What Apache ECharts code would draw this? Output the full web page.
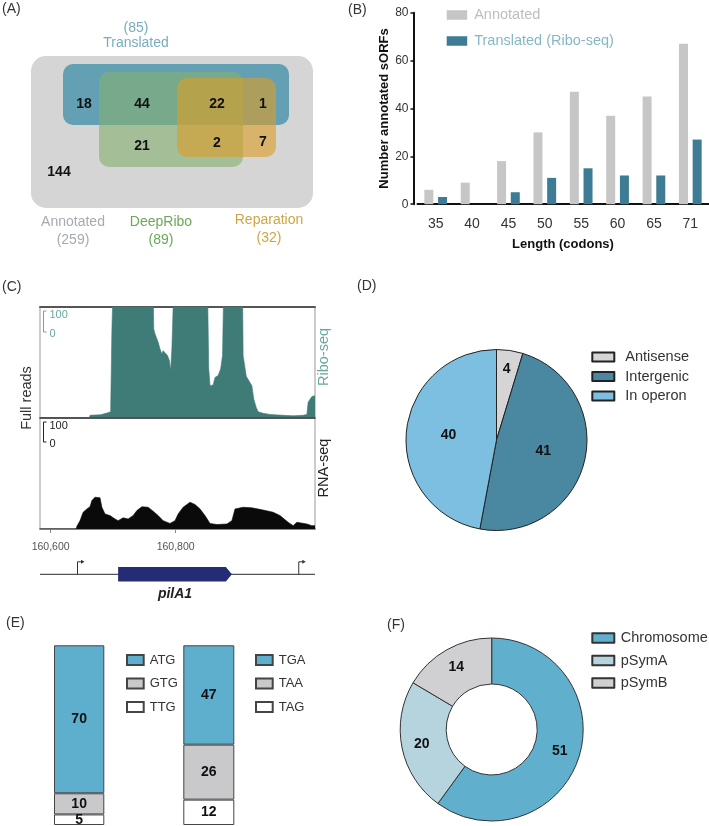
<!DOCTYPE html>
<html><head><meta charset="utf-8">
<script src="https://cdn.jsdelivr.net/npm/echarts@6/dist/echarts.min.js"></script>
<style>html,body{margin:0;padding:0;background:#fff}#chart{width:709px;height:826px}</style>
</head><body><div id="chart"></div>
<script>
// ---------- DATA ----------
// (A) Venn
const vennSetNames = ['Translated', 'Annotated', 'DeepRibo', 'Reparation'];
const vennSetTotals = [85, 259, 89, 32];
const vennRegionCounts = [18, 44, 22, 1, 21, 2, 7, 144];
// (B) length distribution
const lengthCategories = ['35', '40', '45', '50', '55', '60', '65', '71'];
const annotatedCounts = [6, 9, 18, 30, 47, 37, 45, 67];
const translatedCounts = [3, 0, 5, 11, 15, 12, 12, 27];
const lengthSeriesNames = ['Annotated', 'Translated (Ribo-seq)'];
// (C) coverage tracks
const genomeRange = [160583, 161023];
const genomeTicks = [160600, 160800];
const riboPos = [160583,160662,160663,160680,160690,160696,160698,160700,160764,160765,160767,160770,160772,160775,160778,160780,160783,160787,160790,160792,160794,160796,160799,160851,160853,160855,160860,160863,160868,160872,160875,160877,160907,160908,160913,160916,160922,160925,160929,160932,160940,160951,160972,160988,161004,161010,161012,161018,161023];
const riboReads = [0,0,8,10,16,21,315,480,480,320,303,285,273,248,230,242,236,224,206,170,250,400,480,480,176,115,118,145,152,176,224,480,480,224,149,142,115,67,36,21,15,11,8,6,8,11,55,76,79];
const rnaPos = [160583,160641,160642,160647,160652,160658,160663,160666,160671,160679,160682,160687,160695,160703,160708,160716,160724,160732,160738,160746,160756,160764,160772,160780,160791,160799,160804,160812,160823,160831,160839,160847,160855,160866,160882,160890,160895,160908,160922,160940,160956,160967,160980,160988,160994,161010,161018,161023];
const rnaReads = [0,0,10,30,60,72,80,102,114,112,78,54,48,36,30,40,36,48,66,80,78,64,48,30,20,30,54,78,96,88,72,48,20,16,18,30,72,78,76,68,60,48,24,12,24,18,12,12];
const readsMax = 400;
const geneName = 'pilA1';
const geneSpan = [160708, 160890];
const tssPositions = [160643, 160997];
// (D) genomic context
const contextNames = ['Antisense', 'Intergenic', 'In operon'];
const contextCounts = [4, 41, 40];
// (E) codons
const startCodons = ['ATG', 'GTG', 'TTG'];
const startCounts = [70, 10, 5];
const stopCodons = ['TGA', 'TAA', 'TAG'];
const stopCounts = [47, 26, 12];
// (F) replicons
const repliconNames = ['Chromosome', 'pSymA', 'pSymB'];
const repliconCounts = [51, 20, 14];

// ---------- STYLE ----------
const FONT = '"Liberation Sans", Arial, Helvetica, sans-serif';
const NARROW = '"Liberation Sans Narrow", "Liberation Sans", Arial, sans-serif';
const codonColors = ['#5eafcd', '#c9c9cb', '#ffffff'];
const contextColors = ['#d5d5d5', '#4a87a1', '#7cbfe0'];
const repliconColors = ['#60b0cd', '#b6d4de', '#d0d0d2'];

function txt(str, x, y, o) {
  o = o || {};
  return {
    type: 'text', x: x, y: y, rotation: o.rot || 0, silent: true, z: 100,
    style: {
      text: str, x: 0, y: 0, fill: o.color || '#333',
      font: (o.weight || 'normal') + ' ' + (o.size || 14) + 'px ' + (o.family || FONT),
      align: o.align || 'center', verticalAlign: 'middle',
      textAlign: o.align || 'center', textVerticalAlign: 'middle'
    }
  };
}

const graphics = [];
// panel labels
[['(A)', 2, 9], ['(B)', 348, 10], ['(C)', 2, 287], ['(D)', 357, 286], ['(E)', 6, 623], ['(F)', 387, 625]]
  .forEach(p => graphics.push(txt(p[0], p[1], p[2], {align: 'left', size: 14, color: '#333'})));

// (A) Venn shapes
const vennShapes = [
  {x: 31, y: 56, w: 282, h: 152, r: 15, fill: '#d5d5d5'},
  {x: 63, y: 64, w: 226, h: 61, r: 10, fill: 'rgba(51,137,165,0.7)'},
  {x: 99, y: 72, w: 144, h: 95, r: 10, fill: 'rgba(131,176,111,0.6)'},
  {x: 177, y: 78, w: 99, h: 79, r: 10, fill: 'rgba(222,156,36,0.6)'}
];
vennShapes.forEach(s => graphics.push({type: 'rect', silent: true, z: 10,
  shape: {x: s.x, y: s.y, width: s.w, height: s.h, r: s.r}, style: {fill: s.fill}}));
const vennNumPos = [[84,104],[142,104],[217,104],[263,104],[142,146],[217,143],[263,142],[59,172]];
vennRegionCounts.forEach((c, i) => graphics.push(txt(String(c), vennNumPos[i][0], vennNumPos[i][1], {weight: 'bold', size: 14, color: '#111'})));
const vennLabelPos = [[136, 43, 28, '#78adbd'], [73, 222, 240, '#a6abb1'], [161, 222, 240, '#6aa858'], [269, 220, 238, '#cfa545']];
vennSetNames.forEach((n, i) => {
  const p = vennLabelPos[i];
  graphics.push(txt(n, p[0], p[1], {size: 14, color: p[3]}));
  graphics.push(txt('(' + vennSetTotals[i] + ')', p[0], p[2], {size: 14, color: p[3]}));
});

// (C) annotations
graphics.push(txt('Full reads', 27, 398, {rot: Math.PI / 2, size: 14.5, color: '#333'}));
graphics.push(txt('Ribo-seq', 324, 357, {rot: Math.PI / 2, size: 14.5, color: '#6ba7a2'}));
graphics.push(txt('RNA-seq', 324, 468, {rot: Math.PI / 2, size: 14.5, color: '#222'}));
[[311, 332, '#6ba7a2', 315, 334], [422, 442, '#222', 426, 444]].forEach(b => {
  graphics.push({type: 'polyline', silent: true, z: 100, shape: {points: [[46.5, b[0]], [43.5, b[0]], [43.5, b[1]], [46.5, b[1]]]},
    style: {stroke: b[2], lineWidth: 1, fill: null}});
  graphics.push(txt(String(readsMax / 4), 49.5, b[3], {align: 'left', size: 11, color: b[2]}));
  graphics.push(txt('0', 49.5, b[4], {align: 'left', size: 11, color: b[2]}));
});

function legend(names, left, top, gap, size, family, padLeft, w, h, colorsText) {
  return {
    orient: 'vertical', left: left, top: top, itemGap: gap, itemWidth: w, itemHeight: h, padding: 0,
    icon: 'rect', selectedMode: false,
    data: names.map((n, i) => ({name: n, textStyle: {color: colorsText ? colorsText[i] : '#333', fontSize: size, fontFamily: family}})),
    textStyle: {fontSize: size, fontFamily: family, lineHeight: 16, padding: [0, 0, 0, padLeft], color: '#333'}
  };
}

const option = {
  backgroundColor: '#fff',
  animation: false,
  textStyle: {fontFamily: FONT},
  grid: [
    {left: 417.5, top: 12.7, width: 291, height: 191.5},          // B
    {left: 40, top: 307, width: 275, height: 110.5, show: true, borderColor: '#999', borderWidth: 1}, // C ribo
    {left: 40, top: 417.5, width: 275, height: 111.5, show: true, borderColor: '#999', borderWidth: 1}, // C rna
    {left: 40, top: 559.3, width: 275, height: 30},                // C gene
    {left: 54, top: 645.3, width: 50.3, height: 179.7},            // E start
    {left: 183.3, top: 645.3, width: 51, height: 179.7}            // E stop
  ],
  xAxis: [
    {type: 'category', gridIndex: 0, data: lengthCategories,
      axisLine: {lineStyle: {color: '#111', width: 2}},
      axisTick: {alignWithLabel: true, length: 6, lineStyle: {color: '#111', width: 2}},
      axisLabel: {fontSize: 14, color: '#333', margin: 13},
      name: 'Length (codons)', nameLocation: 'middle', nameGap: 34,
      nameTextStyle: {fontWeight: 'bold', fontSize: 13, color: '#111'}},
    {type: 'value', gridIndex: 1, min: genomeRange[0], max: genomeRange[1], position: 'bottom',
      axisLine: {show: true, lineStyle: {color: '#222', width: 1.5}}, axisTick: {show: false}, axisLabel: {show: false}, splitLine: {show: false}},
    {type: 'value', gridIndex: 1, min: genomeRange[0], max: genomeRange[1], position: 'top',
      axisLine: {show: true, lineStyle: {color: '#555', width: 2}}, axisTick: {show: false}, axisLabel: {show: false}, splitLine: {show: false}},
    {type: 'value', gridIndex: 2, min: genomeRange[0], max: genomeRange[1], position: 'bottom', offset: 6,
      axisLine: {show: true, lineStyle: {color: '#888', width: 2}},
      axisTick: {show: true, customValues: genomeTicks, length: 4, lineStyle: {color: '#888', width: 1}},
      axisLabel: {show: true, customValues: genomeTicks, formatter: v => Number(v).toLocaleString('en-US'),
        fontSize: 10.5, color: '#555', margin: 7, fontFamily: NARROW},
      splitLine: {show: false}},
    {type: 'value', gridIndex: 3, min: genomeRange[0], max: genomeRange[1], show: false},
    {type: 'category', gridIndex: 4, data: ['start'], show: false},
    {type: 'category', gridIndex: 5, data: ['stop'], show: false}
  ],
  yAxis: [
    {type: 'value', gridIndex: 0, min: 0, max: 80, interval: 20, offset: 4,
      axisLine: {show: true, lineStyle: {color: '#111', width: 2}},
      axisTick: {show: true, length: 3, lineStyle: {color: '#111', width: 1.5}},
      axisLabel: {fontSize: 12, color: '#333', margin: 5},
      splitLine: {show: false},
      name: 'Number annotated sORFs', nameLocation: 'middle', nameGap: 18,
      nameTextStyle: {fontWeight: 'bold', fontSize: 13, color: '#111'}},
    {type: 'value', gridIndex: 1, min: 0, max: readsMax, show: false},
    {type: 'value', gridIndex: 2, min: 0, max: readsMax, show: false},
    {type: 'value', gridIndex: 3, min: 0, max: 1, show: false},
    {type: 'value', gridIndex: 4, min: 0, max: 85, show: false},
    {type: 'value', gridIndex: 5, min: 0, max: 85, show: false}
  ],
  legend: [
    legend(lengthSeriesNames, 446.7, 7, 10, 14.5, FONT, 2, 20.5, 9.5, ['#bdbdbd', '#86b8c4']),
    legend(contextNames, 591.3, 349, 3.5, 14.5, FONT, 6, 22, 9),
    legend(startCodons, 126, 652, 7.5, 13, NARROW, 1, 16.7, 10),
    legend(stopCodons, 255, 652, 7.5, 13, NARROW, 1, 16.7, 10),
    legend(repliconNames, 591.3, 630, 6.5, 14.5, FONT, 1.5, 22, 9.5)
  ],
  series: [
    {type: 'bar', name: lengthSeriesNames[0], xAxisIndex: 0, yAxisIndex: 0, data: annotatedCounts,
      barWidth: 9, barGap: '52%', itemStyle: {color: '#c6c6c6'}, emphasis: {disabled: true}},
    {type: 'bar', name: lengthSeriesNames[1], xAxisIndex: 0, yAxisIndex: 0, data: translatedCounts,
      barWidth: 9, barGap: '52%', itemStyle: {color: '#3e7b94'}, emphasis: {disabled: true}},
    {type: 'line', name: 'Ribo-seq', xAxisIndex: 1, yAxisIndex: 1, clip: true, symbol: 'none', silent: true,
      data: riboPos.map((p, i) => [p, riboReads[i]]),
      lineStyle: {color: '#3f7c77', width: 0.6}, areaStyle: {color: '#3f7c77', opacity: 1}},
    {type: 'line', name: 'RNA-seq', xAxisIndex: 3, yAxisIndex: 2, clip: true, symbol: 'none', silent: true,
      data: rnaPos.map((p, i) => [p, rnaReads[i]]),
      lineStyle: {color: '#0a0a0a', width: 0.6}, areaStyle: {color: '#0a0a0a', opacity: 1}},
    {type: 'line', name: 'locus', xAxisIndex: 4, yAxisIndex: 3, symbol: 'none', silent: true, z: 1,
      data: genomeRange.map(p => [p, 0.5]), lineStyle: {color: '#555', width: 1.2}},
    {type: 'custom', name: 'tss', xAxisIndex: 4, yAxisIndex: 3, silent: true, z: 3,
      data: tssPositions.map(p => [p, 0.5]),
      renderItem: function (params, api) {
        const c = api.coord([api.value(0), api.value(1)]);
        const x = c[0], y = c[1];
        return {type: 'group', children: [
          {type: 'polyline', shape: {points: [[x, y], [x, y - 12.5], [x + 4, y - 12.5]]}, style: {stroke: '#333', lineWidth: 1, fill: null}},
          {type: 'polygon', shape: {points: [[x + 3.5, y - 14.5], [x + 7, y - 12.5], [x + 3.5, y - 10.5]]}, style: {fill: '#333'}}
        ]};
      }},
    {type: 'custom', name: 'gene', xAxisIndex: 4, yAxisIndex: 3, silent: true, z: 5,
      data: [[geneSpan[0], geneSpan[1], 0.5]],
      encode: {x: [0, 1], y: 2},
      renderItem: function (params, api) {
        const a = api.coord([api.value(0), api.value(2)]);
        const b = api.coord([api.value(1), api.value(2)]);
        const y = a[1];
        return {type: 'group', children: [
          {type: 'polygon', shape: {points: [[a[0], y - 7.2], [b[0] - 6, y - 7.2], [b[0], y], [b[0] - 6, y + 7.2], [a[0], y + 7.2]]},
            style: {fill: '#232c74'}},
          {type: 'text', style: {text: geneName, x: (a[0] + b[0]) / 2, y: y + 19.5, fill: '#222',
            font: 'italic bold 14px ' + FONT, align: 'center', verticalAlign: 'middle'}}
        ]};
      }},
    {type: 'pie', name: 'context', center: [496.5, 440], radius: 90.5, startAngle: 90, clockwise: true,
      avoidLabelOverlap: false, emphasis: {disabled: true}, silent: true,
      itemStyle: {borderColor: '#222', borderWidth: 1},
      label: {show: true, position: 'inside', formatter: '{c}', fontWeight: 'bold', fontSize: 14, color: '#111'},
      labelLine: {show: false},
      data: contextNames.map((n, i) => {
        const d = {name: n, value: contextCounts[i], itemStyle: {color: contextColors[i]}};
        if (i === 0) d.label = {offset: [3, -23]};
        return d;
      })},
    {type: 'pie', name: 'replicon', center: [491.7, 729.5], radius: [45.5, 91.5], startAngle: 90, clockwise: true,
      avoidLabelOverlap: false, emphasis: {disabled: true}, silent: true,
      itemStyle: {borderColor: '#333', borderWidth: 1},
      label: {show: true, position: 'inside', formatter: '{c}', fontWeight: 'bold', fontSize: 14, color: '#111'},
      labelLine: {show: false},
      data: repliconNames.map((n, i) => ({name: n, value: repliconCounts[i], itemStyle: {color: repliconColors[i]}}))}
  ],
  graphic: {elements: graphics}
};

// (E) stacked codon bars (bottom of stack = last category)
function codonSeries(names, counts, xi, yi, stack) {
  const out = [];
  for (let i = names.length - 1; i >= 0; i--) {
    out.push({type: 'bar', name: names[i], stack: stack, xAxisIndex: xi, yAxisIndex: yi, data: [counts[i]],
      barWidth: '100%', emphasis: {disabled: true}, silent: true,
      itemStyle: {color: codonColors[i], borderColor: '#444', borderWidth: 1},
      label: {show: true, position: 'inside', fontWeight: 'bold', fontSize: 14, color: '#111'}});
  }
  return out;
}
option.series.push(...codonSeries(startCodons, startCounts, 5, 4, 'start'));
option.series.push(...codonSeries(stopCodons, stopCounts, 6, 5, 'stop'));

const chart = echarts.init(document.getElementById('chart'), null, {renderer: 'canvas'});
chart.setOption(option);
</script></body></html>
